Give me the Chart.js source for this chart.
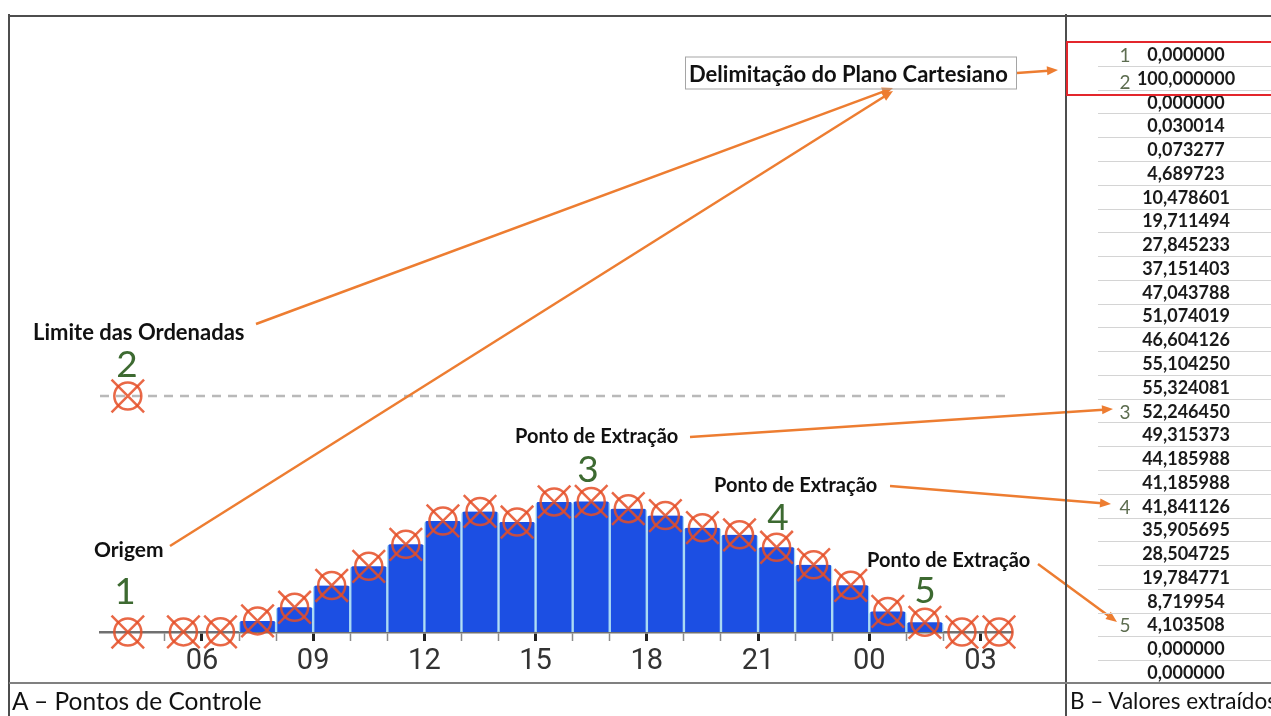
<!DOCTYPE html>
<html>
<head>
<meta charset="utf-8">
<script src="https://cdn.jsdelivr.net/npm/chart.js@4.4.1/dist/chart.umd.min.js"></script>
<style>
    body { margin: 0; width: 1271px; height: 716px; overflow: hidden; position: relative; background: #fff; font-family: Lato, 'Open Sans', sans-serif; }
    #chart { position: absolute; left: 0; top: 0; }
    .line { position: absolute; background: #4d4d4d; }
    .lbl { position: absolute; white-space: nowrap; transform: translateY(-50%); line-height: 1; }
    .bold { font-weight: 700; font-size: 22px; color: #111; }
    .num { font-size: 37px; color: #3d6a31; transform: translate(-50%, -50%); }
    .cap { font-size: 24.5px; color: #111; }
    .cell { position: absolute; left: 1120px; width: 132px; text-align: center; font-weight: 700; font-size: 18px; color: #1a1a1a; transform: translateY(-50%); line-height: 1; }
    .rowno { position: absolute; font-size: 19px; color: #5d6d50; transform: translate(-50%, -50%); line-height: 1; }
    .sep { position: absolute; left: 1098px; width: 173px; height: 1px; background: #d4d4d4; }
</style>
</head>
<body>
<canvas id="chart" width="1271" height="716"></canvas>

<!-- frame -->
<div class="line" style="left:8px;top:15px;width:1263px;height:2px;"></div>
<div class="line" style="left:8px;top:14px;width:2px;height:702px;"></div>
<div class="line" style="left:1065px;top:14px;width:2px;height:702px;"></div>
<div class="line" style="left:9px;top:682px;width:1262px;height:2px;background:#808080;"></div>

<!-- annotations -->
<div class="lbl bold" style="left:685px;top:73px;height:31px;width:327px;border:1px solid #a5a5a5;line-height:31px;padding-left:3px;">Delimitação do Plano Cartesiano</div>
<div class="lbl bold" style="left:33px;top:332px;">Limite das Ordenadas</div>
<div class="lbl num" style="left:127px;top:362px;">2</div>
<div class="lbl bold" style="left:94px;top:548px;font-size:21px;">Origem</div>
<div class="lbl num" style="left:125px;top:589px;">1</div>
<div class="lbl bold" style="left:515px;top:435px;font-size:20px;">Ponto de Extração</div>
<div class="lbl num" style="left:588px;top:467px;">3</div>
<div class="lbl bold" style="left:714px;top:484px;font-size:20px;">Ponto de Extração</div>
<div class="lbl num" style="left:778px;top:515px;">4</div>
<div class="lbl bold" style="left:867px;top:559px;font-size:20px;">Ponto de Extração</div>
<div class="lbl num" style="left:925px;top:588px;">5</div>

<div class="lbl cap" style="left:12px;top:701px;">A – Pontos de Controle</div>
<div class="lbl cap" style="left:1070px;top:701px;font-size:22.5px;">B – Valores extraídos</div>

<div id="table"></div>
<div style="position:absolute;left:1066px;top:41px;width:220px;height:51px;border:2.5px solid #e3262c;"></div>

<script>
// hours (bar centres, 24 = midnight of the next day)
const barHours = [5.5, 6.5, 7.5, 8.5, 9.5, 10.5, 11.5, 12.5, 13.5, 14.5, 15.5, 16.5,
    17.5, 18.5, 19.5, 20.5, 21.5, 22.5, 23.5, 24.5, 25.5, 26.5, 27.5];
const barValues = [0.030014, 0.073277, 4.689723, 10.478601, 19.711494, 27.845233, 37.151403,
    47.043788, 51.074019, 46.604126, 55.104250, 55.324081, 52.246450, 49.315373, 44.185988,
    41.185988, 35.905695, 28.504725, 19.784771, 8.719954, 4.103508, 0, 0];

// control points: origin (1) and limit of ordinates (2)
const controlX = [4.0, 4.0];
const controlY = [0, 100];

const tickHours = [5, 6, 7, 8, 9, 10, 11, 12, 13, 14, 15, 16, 17, 18, 19, 20, 21, 22, 23, 24, 25, 26, 27];
const xMin = 3.25;
const xMax = 27.85;

// extracted values table
const tableValues = ['0,000000', '100,000000', '0,000000', '0,030014', '0,073277', '4,689723',
    '10,478601', '19,711494', '27,845233', '37,151403', '47,043788', '51,074019', '46,604126',
    '55,104250', '55,324081', '52,246450', '49,315373', '44,185988', '41,185988', '41,841126',
    '35,905695', '28,504725', '19,784771', '8,719954', '4,103508', '0,000000', '0,000000'];
const tableMarks = { 0: '1', 1: '2', 15: '3', 19: '4', 24: '5' };

// build the table
const table = document.getElementById('table');
const rowTop = 54, rowH = 23.77;
tableValues.forEach(function(v, i) {
    const y = rowTop + i * rowH;
    const c = document.createElement('div');
    c.className = 'cell';
    c.style.top = y + 'px';
    c.textContent = v;
    table.appendChild(c);
    if (tableMarks[i]) {
        const n = document.createElement('div');
        n.className = 'rowno';
        n.style.left = '1125px';
        n.style.top = (y + (i === 1 ? 3 : 0)) + 'px';
        n.textContent = tableMarks[i];
        table.appendChild(n);
    }
    if (i < tableValues.length - 1) {
        const s = document.createElement('div');
        s.className = 'sep';
        s.style.top = Math.round(y + rowH / 2) + 'px';
        table.appendChild(s);
    }
});

// orange call-out arrows [x1, y1, x2, y2]
const arrows = [
    [1017, 73, 1058, 70],
    [256, 324, 893, 88],
    [170, 546, 893, 91],
    [690, 437, 1113, 409],
    [890, 486, 1111, 504],
    [1038, 564, 1117, 622]
];

function drawArrow(ctx, a) {
    const ang = Math.atan2(a[3] - a[1], a[2] - a[0]);
    ctx.strokeStyle = '#ed7d31';
    ctx.fillStyle = '#ed7d31';
    ctx.lineWidth = 2.5;
    ctx.beginPath();
    ctx.moveTo(a[0], a[1]);
    ctx.lineTo(a[2] - 6 * Math.cos(ang), a[3] - 6 * Math.sin(ang));
    ctx.stroke();
    ctx.beginPath();
    ctx.moveTo(a[2], a[3]);
    ctx.lineTo(a[2] - 11 * Math.cos(ang) + 4.5 * Math.sin(ang), a[3] - 11 * Math.sin(ang) - 4.5 * Math.cos(ang));
    ctx.lineTo(a[2] - 11 * Math.cos(ang) - 4.5 * Math.sin(ang), a[3] - 11 * Math.sin(ang) + 4.5 * Math.cos(ang));
    ctx.closePath();
    ctx.fill();
}

const calloutPlugin = {
    id: 'callouts',
    afterDraw(chart) {
        const ctx = chart.ctx;
        ctx.save();
        arrows.forEach(function(a) { drawArrow(ctx, a); });
        ctx.restore();
    }
};

const barPoints = barHours.map(function(h, i) { return { x: h, y: barValues[i] }; });
const markerPoints = controlX.map(function(x, i) { return { x: x, y: controlY[i] }; }).concat(barPoints);
const markerColor = 'rgba(229, 78, 38, 0.85)';

new Chart(document.getElementById('chart'), {
    type: 'bar',
    data: {
        datasets: [{
            type: 'line',
            data: [{ x: xMin, y: controlY[1] }, { x: xMax, y: controlY[1] }],
            borderColor: '#b9b9b9',
            borderWidth: 2.5,
            borderDash: [9, 7],
            pointRadius: 0,
            clip: false,
            order: 4
        }, {
            type: 'bar',
            data: barPoints,
            backgroundColor: '#1c4fe3',
            borderColor: '#a9d9f3',
            borderWidth: { left: 1.5, right: 1.5, top: 0, bottom: 0 },
            borderRadius: { topLeft: 3, topRight: 3, bottomLeft: 0, bottomRight: 0 },
            borderSkipped: 'bottom',
            barThickness: 37,
            order: 3
        }, {
            type: 'line',
            data: markerPoints,
            showLine: false,
            pointStyle: 'circle',
            pointRadius: 13.5,
            pointBorderWidth: 2.5,
            pointBorderColor: markerColor,
            pointBackgroundColor: 'rgba(0,0,0,0)',
            clip: false,
            order: 1
        }, {
            type: 'line',
            data: markerPoints,
            showLine: false,
            pointStyle: 'crossRot',
            pointRadius: 23,
            pointBorderWidth: 2.5,
            pointBorderColor: markerColor,
            clip: false,
            order: 0
        }]
    },
    options: {
        responsive: false,
        animation: false,
        layout: { padding: { left: 100, right: 259, top: 396, bottom: 0 } },
        plugins: { legend: { display: false }, tooltip: { enabled: false } },
        scales: {
            x: {
                type: 'linear',
                offset: false,
                min: xMin,
                max: xMax,
                afterBuildTicks: function(scale) {
                    scale.ticks = tickHours.map(function(v) { return { value: v }; });
                },
                afterFit: function(scale) { scale.height = 84; },
                ticks: {
                    autoSkip: false,
                    maxRotation: 0,
                    padding: 3,
                    color: '#333',
                    font: { family: 'Roboto', size: 29 },
                    callback: function(value) {
                        return value % 3 === 0 ? String(value % 24).padStart(2, '0') : '';
                    }
                },
                grid: {
                    offset: false,
                    drawOnChartArea: false,
                    tickLength: 9,
                    tickColor: function(c) { return c.tick && c.tick.value % 3 === 0 ? '#222' : '#8a8a8a'; },
                    tickWidth: function(c) { return c.tick && c.tick.value % 3 === 0 ? 3 : 1.5; }
                },
                border: { color: '#707070', width: 2.5 }
            },
            y: { min: 0, max: 100, display: false }
        }
    },
    plugins: [calloutPlugin]
});
</script>
</body>
</html>
